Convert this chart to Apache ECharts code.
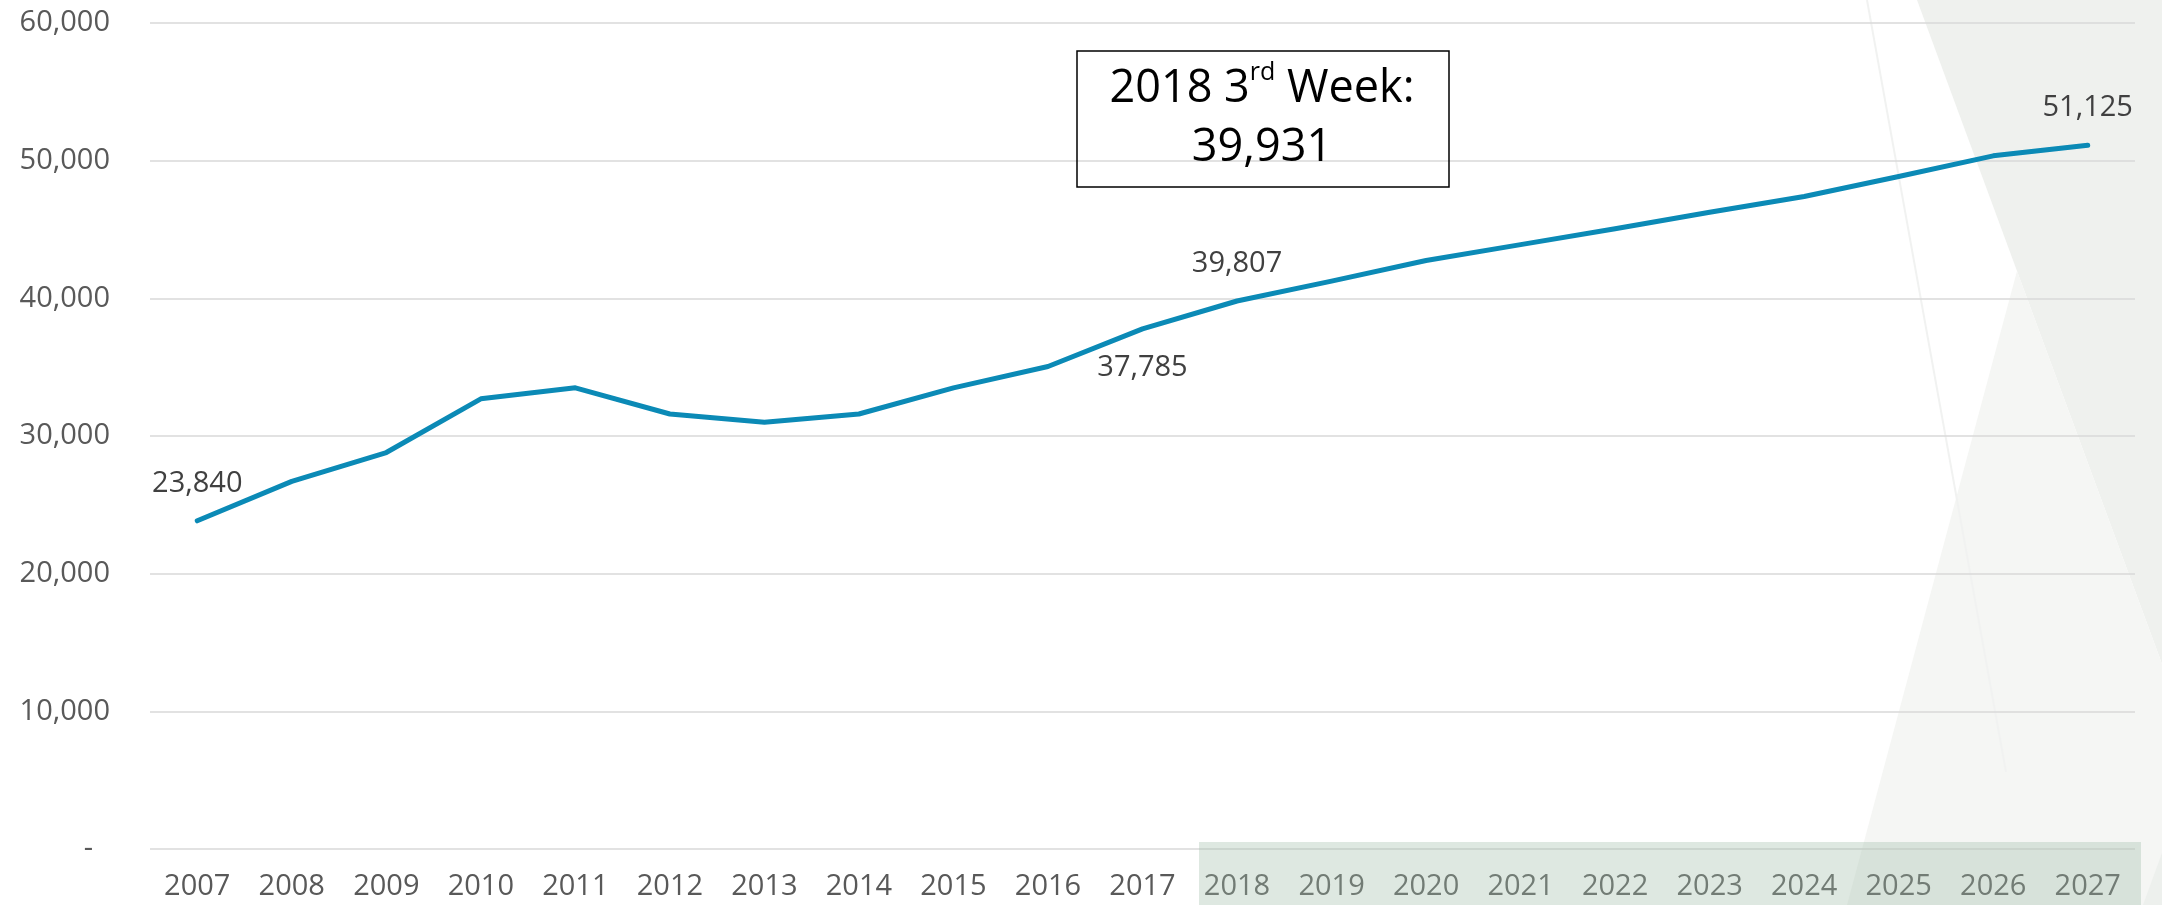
<!DOCTYPE html>
<html>
<head>
    <meta charset="utf-8">
    <title>ECharts</title>
    <script src="https://cdn.jsdelivr.net/npm/echarts@6/dist/echarts.min.js"></script>
    <style>
        html, body { margin: 0; padding: 0; background: #fff; }
    </style>
</head>
<body>
    <div id="main" style="width: 2162px;height:905px;"></div>
    <script type="text/javascript">
        // data
        var years = ['2007', '2008', '2009', '2010', '2011', '2012', '2013', '2014', '2015', '2016', '2017',
                     '2018', '2019', '2020', '2021', '2022', '2023', '2024', '2025', '2026', '2027'];
        var enrollment = [23840, 26700, 28800, 32700, 33500, 31600, 31000, 31600, 33500, 35050, 37785,
                          39807, 41250, 42750, 43900, 45050, 46250, 47400, 48850, 50350, 51125];
        // which points carry a value label, and where
        var labelAt = { 0: 'top', 10: 'bottom', 11: 'top', 20: 'top' };
        var yTicks = [0, 10000, 20000, 30000, 40000, 50000, 60000];
        var noteLines = ['2018 3rd Week:', '39,931'];

        var font = '"Open Sans", "DejaVu Sans", sans-serif';
        var myChart = echarts.init(document.getElementById('main'));

        var seriesData = enrollment.map(function (v, i) {
            if (labelAt[i]) {
                return {
                    value: v,
                    label: { show: true, position: labelAt[i], distance: labelAt[i] === 'top' ? 21 : 23 }
                };
            }
            return v;
        });

        var option = {
            animation: false,
            backgroundColor: '#ffffff',
            grid: { left: 150, right: 27, top: 23, bottom: 56 },
            xAxis: {
                type: 'category',
                data: years,
                boundaryGap: true,
                axisLine: { show: false },
                axisTick: { show: false },
                axisLabel: { margin: 23, fontSize: 29, color: '#595959', fontFamily: font, interval: 0 }
            },
            yAxis: {
                type: 'value',
                min: yTicks[0],
                max: yTicks[yTicks.length - 1],
                interval: yTicks[1] - yTicks[0],
                axisLine: { show: false },
                axisTick: { show: false },
                splitLine: { lineStyle: { color: '#d9d9d9', width: 1.5 } },
                axisLabel: {
                    margin: 40,
                    fontSize: 29,
                    color: '#595959',
                    fontFamily: font,
                    formatter: function (v) {
                        if (v === 0) return '{d|-}';
                        return v.toLocaleString('en-US');
                    },
                    rich: {
                        d: { fontSize: 29, color: '#595959', fontFamily: font, padding: [0, 17, 0, 0] }
                    }
                }
            },
            series: [{
                name: 'enrollment',
                type: 'line',
                data: seriesData,
                symbol: 'circle',
                symbolSize: 3,
                showSymbol: true,
                itemStyle: { color: '#0b8ab6' },
                lineStyle: { color: '#0b8ab6', width: 5, cap: 'round', join: 'round' },
                label: {
                    show: false,
                    fontSize: 29,
                    color: '#404040',
                    fontFamily: font,
                    formatter: function (p) { return p.value.toLocaleString('en-US'); }
                },
                z: 5
            }],
            graphic: [
                // slide background facets on the right
                {
                    type: 'polygon', z: -10, silent: true,
                    shape: { points: [[1917, 0], [2162, 0], [2162, 664]] },
                    style: { fill: '#eff1ee' }
                },
                {
                    type: 'polygon', z: -10, silent: true,
                    shape: { points: [[1847, 905], [2017, 271], [2162, 664], [2162, 905]] },
                    style: { fill: '#f5f6f4' }
                },
                {
                    type: 'line', z: -9, silent: true,
                    shape: { x1: 1867, y1: 0, x2: 2006, y2: 772 },
                    style: { stroke: '#f1f2f1', lineWidth: 2 }
                },
                {
                    type: 'polygon', z: -9, silent: true,
                    shape: { points: [[2143, 905], [2162, 853], [2162, 905]] },
                    style: { fill: '#edf0ed' }
                },
                // forecast band under the axis labels
                {
                    type: 'rect', z: 100, silent: true,
                    shape: { x: 1199, y: 842, width: 942, height: 63 },
                    style: { fill: 'rgba(160,190,170,0.35)' }
                },
                // callout box
                {
                    type: 'rect', z: 50, silent: true,
                    shape: { x: 1077, y: 51, width: 372, height: 136 },
                    style: { fill: 'none', stroke: '#000', lineWidth: 1.5 }
                },
                {
                    type: 'text', z: 51, silent: true,
                    style: {
                        x: 1262,
                        y: 119,
                        align: 'center',
                        verticalAlign: 'middle',
                        text: '{a|2018 3}{s|rd}{a| Week:}\n{a|' + noteLines[1] + '}',
                        rich: {
                            a: { fontSize: 45, lineHeight: 59, color: '#000', fontFamily: font },
                            s: { fontSize: 25, lineHeight: 54, color: '#000', fontFamily: font, verticalAlign: 'top' }
                        }
                    }
                }
            ]
        };

        myChart.setOption(option);
    </script>
</body>
</html>
